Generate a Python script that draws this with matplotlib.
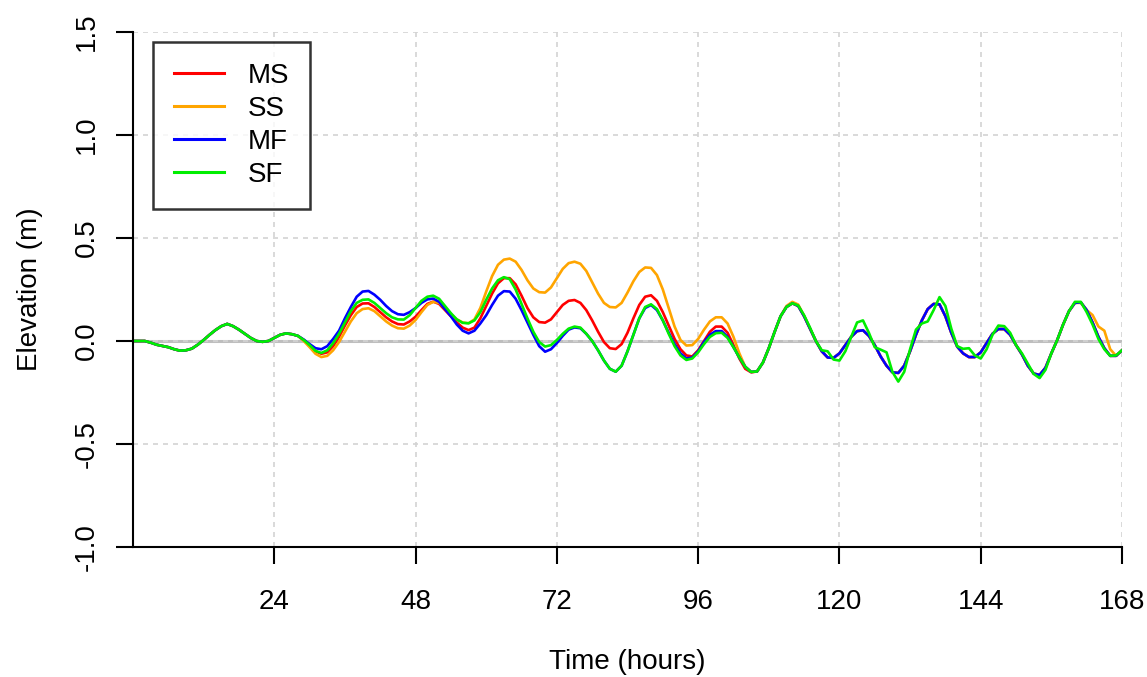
import matplotlib
matplotlib.use('Agg')
import matplotlib.pyplot as plt

plt.rcParams['font.family'] = ['Liberation Sans', 'DejaVu Sans']

# hourly elevation (m) for the four runs
hours = list(range(169))

MF = [0.000, 0.000, 0.000, -0.008, -0.018, -0.024, -0.030, -0.040, -0.047, -0.045,
      -0.037, -0.018, 0.005, 0.030, 0.053, 0.072, 0.083, 0.072, 0.055, 0.035,
      0.015, 0.000, -0.004, 0.000, 0.015, 0.030, 0.037, 0.033, 0.025, 0.007,
      -0.015, -0.035, -0.040, -0.025, 0.010, 0.050, 0.110, 0.165, 0.215, 0.240,
      0.243, 0.225, 0.200, 0.170, 0.145, 0.130, 0.127, 0.140, 0.160, 0.185,
      0.202, 0.206, 0.190, 0.155, 0.120, 0.080, 0.050, 0.037, 0.050, 0.085,
      0.125, 0.175, 0.220, 0.242, 0.240, 0.205, 0.150, 0.090, 0.030, -0.025,
      -0.052, -0.040, -0.010, 0.025, 0.055, 0.066, 0.062, 0.035, 0.000, -0.045,
      -0.095, -0.135, -0.149, -0.120, -0.050, 0.030, 0.110, 0.160, 0.175, 0.150,
      0.100, 0.040, -0.015, -0.060, -0.085, -0.080, -0.050, -0.005, 0.030, 0.048,
      0.048, 0.020, -0.030, -0.080, -0.125, -0.150, -0.148, -0.105, -0.035, 0.045,
      0.120, 0.165, 0.183, 0.170, 0.120, 0.060, 0.000, -0.050, -0.080, -0.082,
      -0.060, -0.020, 0.020, 0.048, 0.052, 0.025, -0.020, -0.075, -0.120, -0.152,
      -0.155, -0.120, -0.050, 0.030, 0.100, 0.155, 0.180, 0.178, 0.120, 0.040,
      -0.027, -0.060, -0.078, -0.078, -0.055, -0.010, 0.035, 0.058, 0.058, 0.030,
      -0.020, -0.065, -0.120, -0.158, -0.165, -0.130, -0.060, 0.005, 0.080, 0.145,
      0.185, 0.188, 0.150, 0.090, 0.020, -0.035, -0.072, -0.072, -0.045]

MS = [0.000, 0.000, 0.000, -0.008, -0.018, -0.024, -0.030, -0.040, -0.047, -0.045,
      -0.037, -0.018, 0.005, 0.030, 0.053, 0.072, 0.083, 0.072, 0.055, 0.035,
      0.015, 0.000, -0.004, 0.000, 0.015, 0.030, 0.037, 0.033, 0.025, 0.005,
      -0.020, -0.050, -0.062, -0.055, -0.025, 0.020, 0.075, 0.125, 0.165, 0.182,
      0.183, 0.165, 0.140, 0.115, 0.095, 0.082, 0.080, 0.095, 0.118, 0.150,
      0.180, 0.191, 0.180, 0.150, 0.120, 0.090, 0.065, 0.053, 0.065, 0.110,
      0.170, 0.230, 0.280, 0.305, 0.305, 0.275, 0.220, 0.160, 0.115, 0.092,
      0.089, 0.105, 0.140, 0.175, 0.195, 0.199, 0.185, 0.150, 0.100, 0.045,
      -0.005, -0.035, -0.039, -0.015, 0.040, 0.110, 0.175, 0.215, 0.222, 0.195,
      0.140, 0.075, 0.010, -0.040, -0.070, -0.075, -0.045, 0.000, 0.045, 0.070,
      0.070, 0.040, -0.020, -0.085, -0.135, -0.152, -0.148, -0.105, -0.035, 0.045,
      0.120, 0.165, 0.183, 0.170, 0.120, 0.060, 0.000, -0.050, -0.080, -0.082,
      -0.060, -0.020, 0.020, 0.048, 0.052, 0.025, -0.020, -0.075, -0.120, -0.152,
      -0.155, -0.120, -0.050, 0.030, 0.100, 0.155, 0.180, 0.178, 0.120, 0.040,
      -0.027, -0.060, -0.078, -0.078, -0.055, -0.010, 0.035, 0.058, 0.058, 0.030,
      -0.020, -0.065, -0.120, -0.158, -0.165, -0.130, -0.060, 0.005, 0.080, 0.145,
      0.185, 0.188, 0.150, 0.090, 0.020, -0.035, -0.072, -0.072, -0.045]

SS = [0.000, 0.000, 0.000, -0.008, -0.018, -0.024, -0.030, -0.040, -0.047, -0.045,
      -0.037, -0.018, 0.005, 0.030, 0.053, 0.072, 0.083, 0.072, 0.055, 0.035,
      0.015, 0.000, -0.004, 0.000, 0.015, 0.030, 0.037, 0.033, 0.025, 0.000,
      -0.030, -0.062, -0.078, -0.072, -0.045, -0.005, 0.045, 0.095, 0.135, 0.155,
      0.159, 0.145, 0.120, 0.095, 0.075, 0.062, 0.060, 0.075, 0.102, 0.140,
      0.175, 0.190, 0.185, 0.160, 0.130, 0.105, 0.090, 0.086, 0.105, 0.160,
      0.240, 0.315, 0.370, 0.395, 0.400, 0.385, 0.345, 0.295, 0.255, 0.237,
      0.235, 0.260, 0.305, 0.350, 0.378, 0.385, 0.375, 0.340, 0.285, 0.230,
      0.185, 0.165, 0.163, 0.185, 0.235, 0.290, 0.335, 0.357, 0.355, 0.320,
      0.250, 0.160, 0.070, 0.005, -0.022, -0.020, 0.010, 0.055, 0.095, 0.115,
      0.115, 0.085, 0.020, -0.060, -0.125, -0.150, -0.148, -0.105, -0.035, 0.045,
      0.120, 0.170, 0.190, 0.177, 0.122, 0.060, 0.000, -0.050, -0.080, -0.082,
      -0.060, -0.020, 0.020, 0.048, 0.052, 0.025, -0.020, -0.075, -0.120, -0.152,
      -0.155, -0.120, -0.050, 0.030, 0.100, 0.155, 0.180, 0.178, 0.120, 0.040,
      -0.027, -0.060, -0.078, -0.078, -0.055, -0.010, 0.035, 0.058, 0.058, 0.030,
      -0.020, -0.065, -0.120, -0.158, -0.165, -0.130, -0.060, 0.005, 0.080, 0.145,
      0.185, 0.185, 0.150, 0.126, 0.070, 0.050, -0.040, -0.072, -0.045]

SF = [0.000, 0.000, 0.000, -0.008, -0.018, -0.024, -0.030, -0.040, -0.047, -0.045,
      -0.037, -0.018, 0.005, 0.030, 0.053, 0.072, 0.083, 0.072, 0.055, 0.035,
      0.015, 0.000, -0.004, 0.000, 0.015, 0.030, 0.037, 0.033, 0.025, 0.005,
      -0.020, -0.048, -0.058, -0.045, -0.010, 0.035, 0.090, 0.145, 0.185, 0.200,
      0.202, 0.185, 0.160, 0.135, 0.115, 0.105, 0.104, 0.125, 0.160, 0.195,
      0.215, 0.220, 0.205, 0.170, 0.135, 0.105, 0.088, 0.086, 0.100, 0.140,
      0.200, 0.255, 0.295, 0.310, 0.300, 0.250, 0.180, 0.110, 0.045, -0.005,
      -0.027, -0.020, 0.005, 0.035, 0.060, 0.070, 0.065, 0.035, 0.000, -0.045,
      -0.095, -0.135, -0.149, -0.120, -0.050, 0.030, 0.110, 0.165, 0.178, 0.155,
      0.100, 0.035, -0.025, -0.070, -0.092, -0.085, -0.055, -0.015, 0.020, 0.038,
      0.040, 0.015, -0.030, -0.080, -0.125, -0.150, -0.148, -0.105, -0.035, 0.045,
      0.120, 0.165, 0.183, 0.172, 0.125, 0.065, 0.000, -0.045, -0.050, -0.090,
      -0.095, -0.050, 0.020, 0.090, 0.100, 0.040, -0.030, -0.042, -0.055, -0.150,
      -0.197, -0.150, -0.040, 0.055, 0.085, 0.095, 0.150, 0.213, 0.170, 0.060,
      -0.025, -0.038, -0.035, -0.070, -0.085, -0.040, 0.030, 0.075, 0.072, 0.040,
      -0.020, -0.060, -0.110, -0.160, -0.180, -0.140, -0.060, 0.005, 0.080, 0.145,
      0.190, 0.190, 0.140, 0.080, 0.010, -0.040, -0.072, -0.070, -0.045]

series = [('MS', MS, '#ff0000'), ('SS', SS, '#ffa500'),
          ('MF', MF, '#0000ff'), ('SF', SF, '#00ee00')]

xticks = [24, 48, 72, 96, 120, 144, 168]
yticks = [-1.0, -0.5, 0.0, 0.5, 1.0, 1.5]
ylabels = ['-1.0', '-0.5', '0.0', '0.5', '1.0', '1.5']

fig = plt.figure(figsize=(11.47, 6.77), dpi=100)
ax = fig.add_axes([133 / 1147, 130 / 677, 989 / 1147, 515 / 677])

ax.axhline(0, color='#bebebe', lw=2.2, zorder=1.5)
for name, vals, col in series:
    ax.plot(hours, vals, color=col, lw=1.9, label=name, zorder=2)

ax.set_xlim(0, 168)
ax.set_ylim(-1, 1.5)
ax.set_xticks(xticks)
ax.set_yticks(yticks)
ax.set_yticklabels(ylabels, rotation=90, va='center')
ax.grid(True, color='#d3d3d3', linestyle=(0, (3, 3)), linewidth=1.2, zorder=0)

for s in ['top', 'right']:
    ax.spines[s].set_visible(False)
for s in ['left', 'bottom']:
    ax.spines[s].set_linewidth(1.5)
ax.tick_params(axis='both', direction='out', length=12, width=1.5, labelsize=20)
ax.tick_params(axis='x', pad=18)
ax.tick_params(axis='y', pad=12)

fig.text(627.5 / 1147, 1 - 662 / 677, 'Time (hours)', ha='center', va='center', fontsize=20)
fig.text(30 / 1147, 1 - 289.5 / 677, 'Elevation (m)', ha='center', va='center',
         rotation=90, fontsize=20)

leg = ax.legend(loc='upper left', bbox_to_anchor=(20 / 989, 1 - 10 / 515),
                borderaxespad=0, fontsize=20, frameon=True, fancybox=False,
                handlelength=1.8, handletextpad=0.85, labelspacing=0.25,
                borderpad=0.75)
leg.get_frame().set_edgecolor('black')
leg.get_frame().set_linewidth(1.8)
for line in leg.get_lines():
    line.set_linewidth(2.2)

fig.savefig('out.png', dpi=100)
